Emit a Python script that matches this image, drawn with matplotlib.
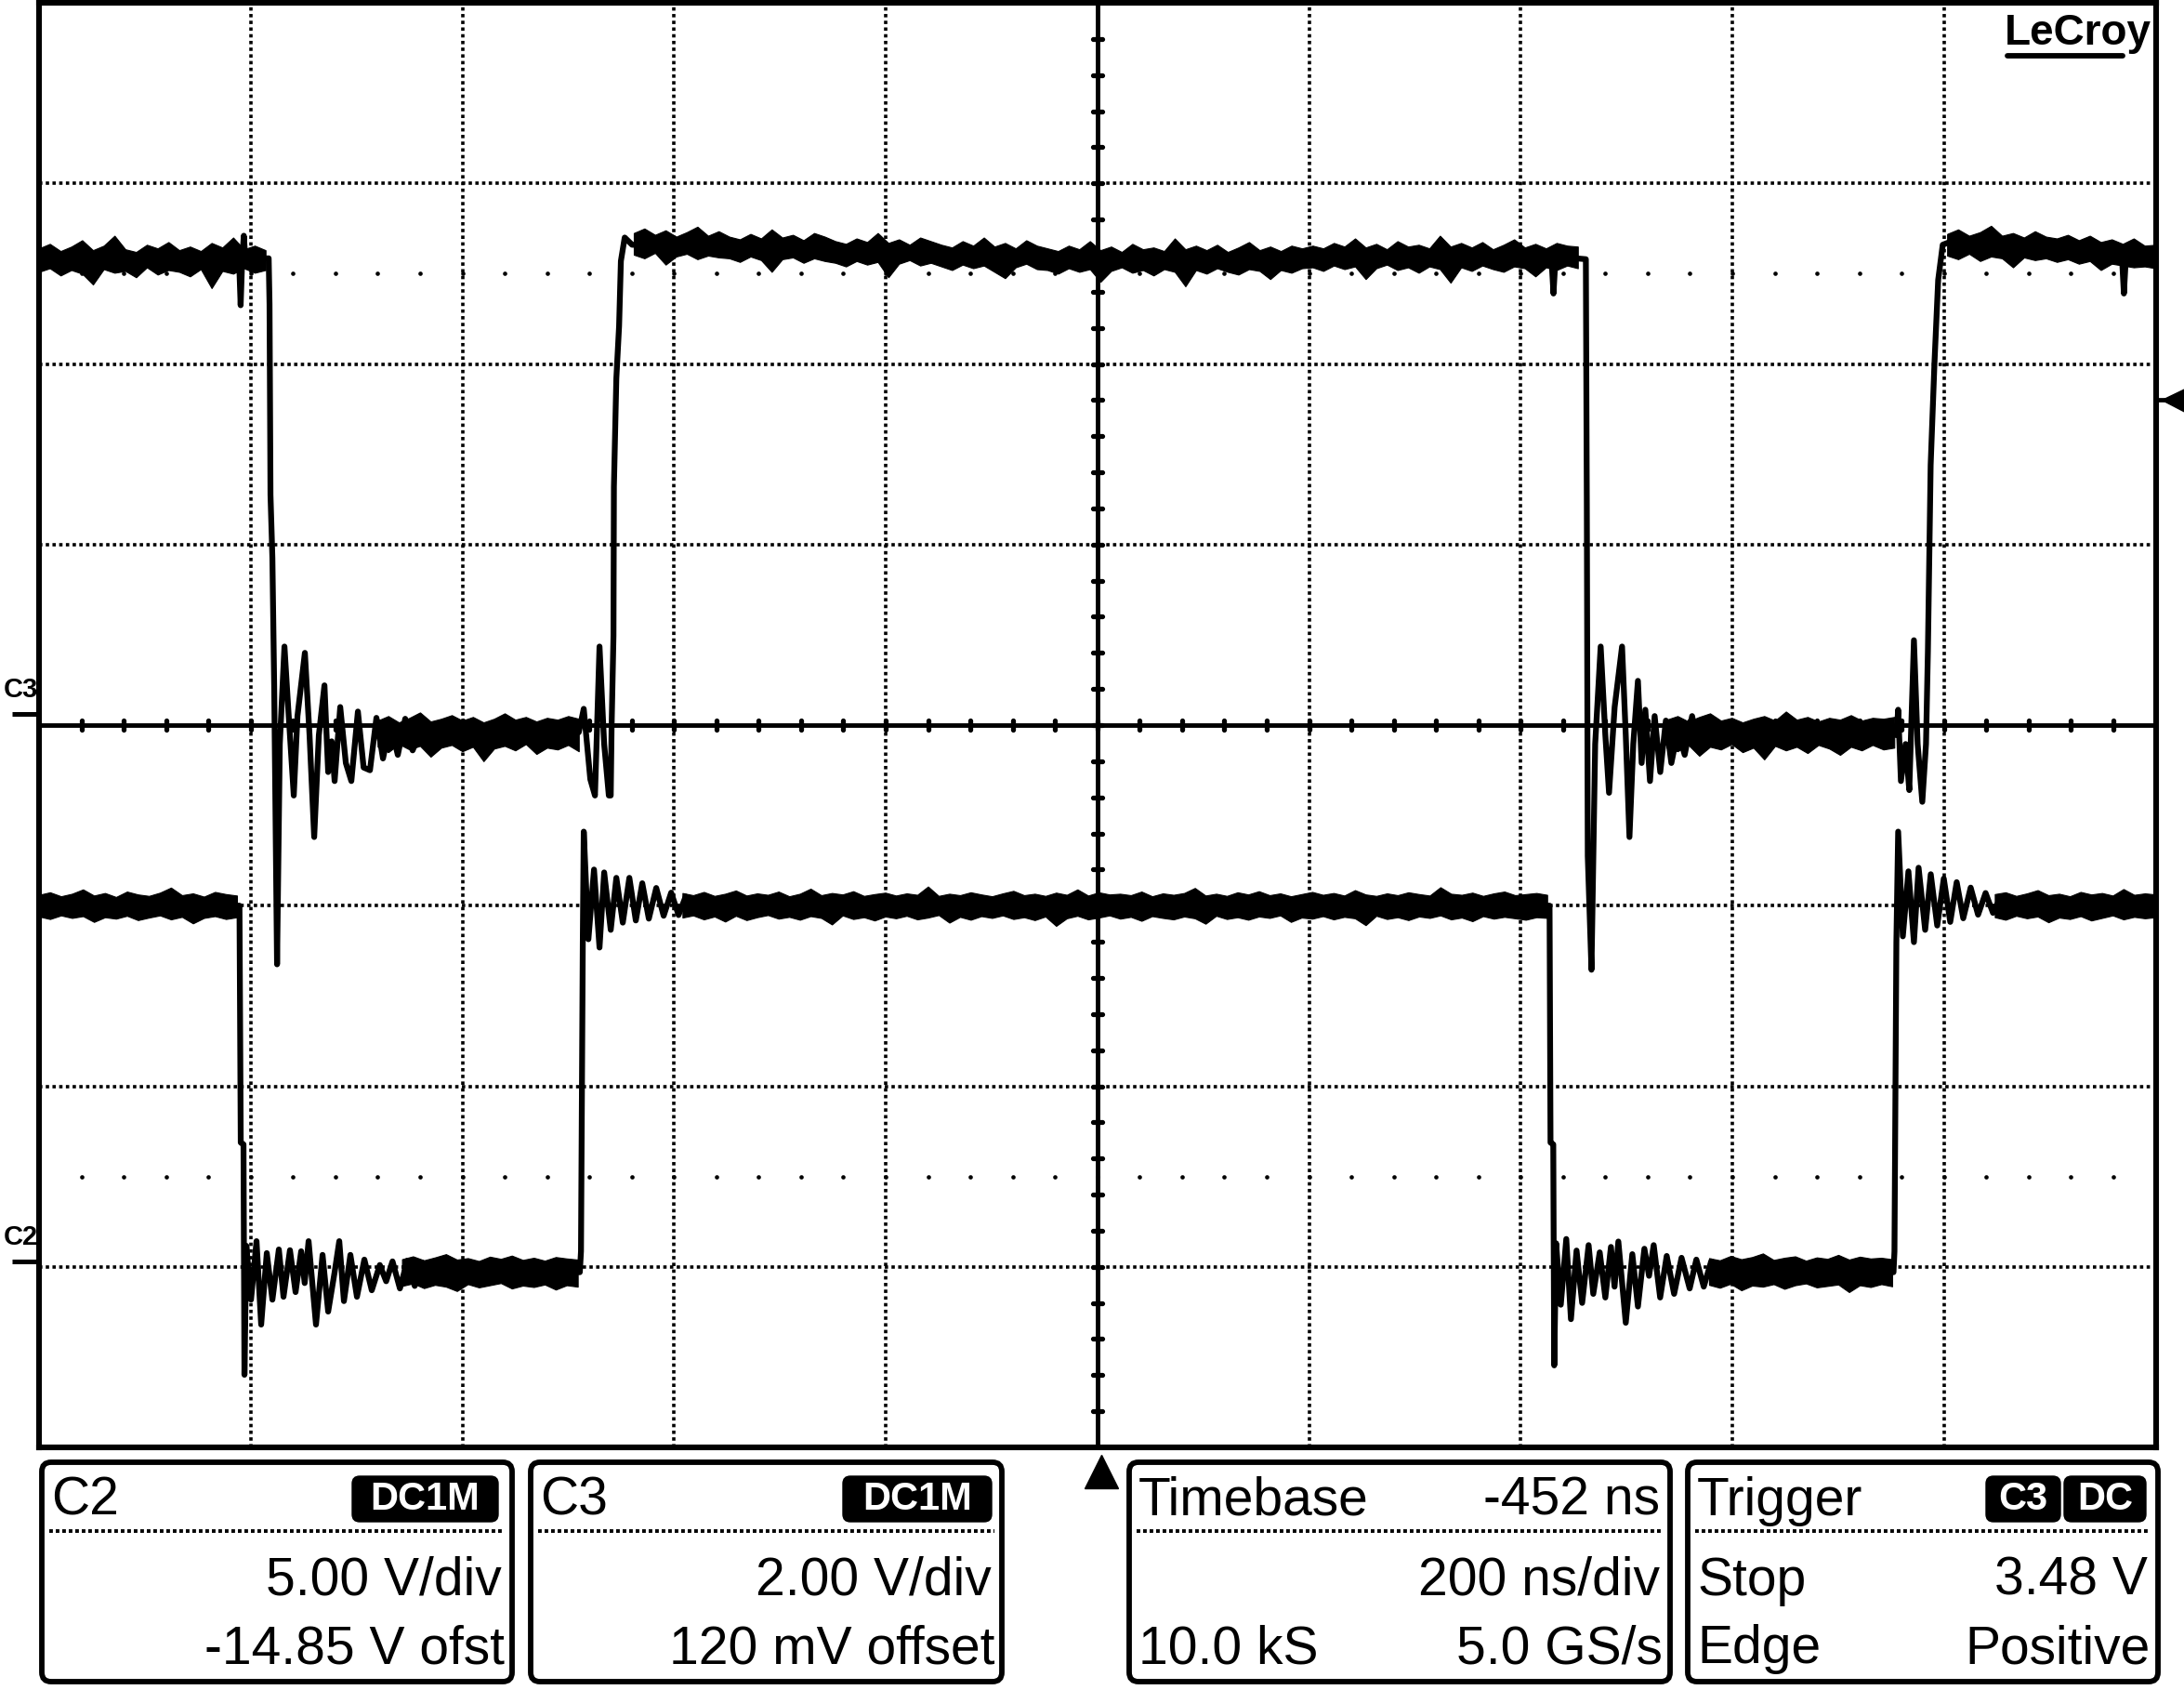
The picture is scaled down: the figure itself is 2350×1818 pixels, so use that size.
import numpy as np
import matplotlib
matplotlib.use("Agg")
import matplotlib.pyplot as plt
from matplotlib.patches import FancyBboxPatch
from matplotlib.transforms import blended_transform_factory, offset_copy

nan = float("nan")

# ---------------- scope settings ----------------
timebase_delay_ns = -452.0
ns_per_div = 200.0
n_div_x = 10
n_div_y = 8
c2_volts_per_div = 5.00
c2_offset_v = -14.85
c3_volts_per_div = 2.00
c3_offset_v = 0.12
trigger_level_v = 3.48

# ---------------- C3 trace (ns, V) ----------------
c3_t = [-548, -420, -359, -357.5, -356, -354.5, -353, -331, -330.2, -329.3, -327.5, -325.8, -323.1,
        -320.5, -316.1, -312.6, -307.3, -303.8, -296.8, -292.4, -288.0, -283.6, -278.3, -274.8, -271.5,
        -268.7, -263.4, -258.1, -252.9, -246.7, -241.3, -235.3, -229.2, -223.0, -216.0, -209, -202,
        -195, -188,
        -38, -33.3, -27.1, -22.7, -18.4, -14.0, -9.6, -7.8, -7.0, -5.2, -4.8, -2.5, 0.1, 1.8, 5.4, 12.4,
        100, 200, 300, 400, 640, 800, 881, 883, 885,
        913.6, 914.5, 915.4, 918.9, 922.4, 927.6, 932.0, 935.5, 940.8, 947.8, 951.3, 954.8, 958.4,
        962.8, 966.3, 969.8, 974.2, 978.6, 983.9, 989.2, 994.4, 1000.6, 1007, 1014, 1021, 1028, 1035,
        1207, 1208.7, 1211.3, 1215.7, 1219.2, 1223.6, 1227.1, 1231.5, 1235.0, 1236.8, 1239.4, 1243.0,
        1246.5, 1250.8, 1259.6, 1300, 1400, 1420, 1422, 1424, 1452]
c3_v = [5.04, 5.04, 5.03, 4.53, 5.05, 5.30, 5.04, 5.05, 4.54, 2.43, 1.73, 0.31, -2.77,
        -0.33, 0.75, 0.08, -0.90, -0.02, 0.68, -0.23, -1.36, -0.23, 0.32, -0.64, -0.30,
        -0.74, 0.08, -0.54, -0.74, 0.03, -0.59, -0.62, -0.04, -0.49, -0.10, -0.45, -0.05,
        -0.40, -0.20,
        -0.20, 0.06, -0.72, -0.90, 0.75, -0.33, -0.90, -0.90, -0.15, 0.87, 2.52, 3.72, 4.30, 5.02, 5.28, 5.20,
        5.17, 5.12, 5.08, 5.04, 5.04, 5.07, 5.07, 4.66, 5.07,
        5.04, 2.34, -1.57, -2.83, -0.33, 0.75, -0.23, -0.87, 0.08, 0.75, -0.23, -1.36, -0.33,
        0.37, -0.54, 0.05, -0.74, -0.02, -0.64, -0.07, -0.54, -0.18, -0.45, -0.02, -0.42, -0.12, -0.20,
        -0.23, 0.05, -0.74, -0.33, -0.84, 0.82, -0.33, -0.97, -0.33, 0.70, 2.76, 3.89,
        4.81, 5.20, 5.24, 5.18, 5.13, 5.10, 4.66, 5.09, 5.06]

# C3 noise envelope: time spans (ns) of the flat parts, and upper / lower edges (V)
c3_band_spans = [(-548, -334), (-228, -38), (14, 906), (990, 1205), (1255, 1452)]
c3_band_hi = [5.16, 5.21, 5.13, 5.18, 5.25, 5.14, 5.19, 5.30, 5.15, 5.12, 5.20, 5.16, 5.23, 5.14, 5.18,
              5.13, 5.22, 5.17, 5.28, 5.15, 5.19, 5.14, nan,
              -0.07, -0.02, -0.09, -0.04, 0.02, -0.08, -0.05, -0.01, -0.07, -0.03, -0.09, -0.05, 0.01,
              -0.06, -0.03, -0.08, -0.04, -0.06, -0.02, -0.05, nan,
              5.33, 5.38, 5.31, 5.36, 5.29, 5.34, 5.40, 5.30, 5.35,
              5.29, 5.26, 5.32, 5.27, 5.37, 5.28, 5.31, 5.25, 5.33, 5.29,
              5.24, 5.21, 5.27, 5.23, 5.33, 5.22, 5.26, 5.20, 5.28, 5.24,
              5.20, 5.17, 5.24, 5.19, 5.28, 5.18, 5.22, 5.16, 5.25, 5.19,
              5.16, 5.13, 5.19, 5.15, 5.24, 5.14, 5.18, 5.12, 5.21, 5.15, 5.17, 5.13, 5.27, 5.15, 5.19,
              5.14, 5.20, 5.12, 5.17, 5.23, 5.14, 5.18, 5.13, 5.19, 5.16,
              5.19, 5.16, 5.22, 5.18, 5.27, 5.17, 5.21, 5.15, 5.24, 5.18, 5.20, 5.16, 5.30, 5.18, 5.22,
              5.17, 5.23, 5.15, 5.20, 5.26, 5.17, 5.21, 5.16, 5.22, 5.19, 5.18, nan,
              -0.06, -0.02, -0.08, -0.03, 0.01, -0.07, -0.04, -0.09, -0.05, -0.02, -0.07, 0.03, -0.06,
              -0.03, -0.08, -0.04, -0.06, -0.01, -0.07, -0.04, -0.05, -0.03, nan,
              5.32, 5.37, 5.30, 5.34, 5.41, 5.30, 5.33, 5.28, 5.35, 5.29, 5.27, 5.31, 5.25, 5.30, 5.23,
              5.26, 5.21, 5.27, 5.19, 5.20]
c3_band_lo = [4.90, 4.94, 4.86, 4.92, 4.88, 4.76, 4.93, 4.89, 4.91, 4.84, 4.95, 4.87, 4.92, 4.90, 4.85,
              4.93, 4.72, 4.91, 4.88, 4.94, 4.89, 4.92, nan,
              -0.36, -0.42, -0.33, -0.39, -0.35, -0.47, -0.37, -0.34, -0.41, -0.36, -0.52, -0.38, -0.35,
              -0.40, -0.33, -0.44, -0.37, -0.39, -0.34, -0.41, nan,
              5.09, 5.05, 5.11, 4.98, 5.07, 5.10, 5.04, 5.08, 5.06,
              5.05, 5.01, 5.07, 5.03, 4.90, 5.04, 5.06, 5.00, 5.05, 5.02,
              5.00, 4.96, 5.02, 4.98, 5.01, 4.84, 4.99, 5.03, 4.97, 5.00,
              4.96, 4.92, 4.98, 4.94, 4.97, 4.90, 4.83, 4.95, 4.99, 4.93,
              4.92, 4.88, 4.94, 4.90, 4.93, 4.79, 4.91, 4.95, 4.89, 4.92, 4.86, 4.93, 4.90, 4.74, 4.92,
              4.88, 4.94, 4.90, 4.87, 4.93, 4.91, 4.82, 4.92, 4.89, 4.94,
              4.95, 4.91, 4.97, 4.93, 4.96, 4.82, 4.94, 4.98, 4.92, 4.95, 4.89, 4.96, 4.93, 4.78, 4.95,
              4.91, 4.97, 4.93, 4.90, 4.96, 4.94, 4.85, 4.95, 4.92, 4.97, 4.94, nan,
              -0.37, -0.41, -0.34, -0.46, -0.36, -0.39, -0.33, -0.42, -0.37, -0.50, -0.35, -0.40, -0.36,
              -0.43, -0.34, -0.38, -0.45, -0.36, -0.40, -0.34, -0.39, -0.37, nan,
              5.08, 5.04, 5.10, 5.02, 5.07, 5.05, 4.95, 5.06, 5.03, 5.05, 5.01, 5.04, 4.99, 5.02, 4.92,
              4.99, 4.97, 4.95, 4.96, 4.94]

# ---------------- C2 trace (ns, V) ----------------
c2_t = [-548, -358.6, -357.4, -354.8, -353.9, -352.1, -347.7, -342.5, -338.1, -332.8, -327.5, -321.4,
        -317.0, -310.9, -305.6, -300.3, -297.0, -293.3, -286.3, -280.1, -274.8, -268.7, -264.3, -259.9,
        -253.8, -247.6, -240.6, -233.6, -226.0, -220.0, -214.0, -207, -200, -193, -186, -179, -172,
        -165, -158, -150,
        -37.0, -35.9, -34.2, -33.3, -28.9, -23.6, -18.4, -14.0, -7.8, -2.5, 3.6, 9.8, 15.9, 22.0, 28.2,
        35.2, 42.2, 49.3, 56.3, 63.0, 70.0, 76.0, 83.0, 90.0,
        879.3, 880.2, 882.8, 883.7, 885.5, 889.9, 895.1, 899.5, 904.8, 910.1, 916.2, 920.6, 926.7, 932.0,
        937.3, 940.7, 944.3, 951.3, 957.5, 962.8, 968.9, 973.3, 977.7, 983.8, 990.0, 997.0, 1004.0,
        1011.7, 1018, 1025, 1032, 1039, 1046, 1053, 1060, 1068,
        1204.3, 1205.2, 1207.0, 1208.7, 1213.1, 1218.4, 1223.6, 1228.0, 1234.2, 1239.5, 1245.6, 1251.8,
        1257.9, 1264.0, 1270.2, 1277.2, 1284.2, 1291.3, 1298.3, 1305.0, 1312.0, 1452]
c2_v = [9.85, 9.85, 3.29, 3.24, -3.14, 0.43, -1.06, 0.56, -1.75, 0.23, -1.06, 0.33,
        -0.98, 0.31, -0.85, 0.28, -0.60, 0.56, -1.75, 0.18, -1.39, -0.30, 0.56, -1.10,
        0.18, -0.98, 0.05, -0.80, -0.10, -0.55, 0.00, -0.75, 0.02, -0.68, -0.03, -0.62, -0.08,
        -0.55, -0.12, -0.30,
        -0.30, 0.28, 8.84, 11.90, 8.92, 10.85, 8.69, 10.77, 9.18, 10.62, 9.38, 10.62, 9.44, 10.47, 9.49,
        10.34, 9.57, 10.21, 9.59, 10.10, 9.70, 10.05, 9.68, 9.85,
        9.85, 3.29, 3.24, -2.88, 0.50, -1.20, 0.62, -1.60, 0.30, -1.15, 0.45, -0.90, 0.25, -1.00,
        0.40, -0.70, 0.55, -1.70, 0.20, -1.25, 0.35, -0.40, 0.45, -1.00, 0.15, -0.90, 0.10,
        -0.75, 0.05, -0.70, 0.00, -0.62, -0.05, -0.58, -0.12, -0.30,
        -0.30, 0.28, 8.84, 11.90, 9.00, 10.80, 8.84, 10.90, 9.18, 10.72, 9.30, 10.60,
        9.40, 10.50, 9.50, 10.35, 9.60, 10.20, 9.65, 10.05, 9.80, 9.85]

# C2 noise envelope
c2_band_spans = [(-548, -361), (-205, -39), (60, 877), (1030, 1203), (1300, 1452)]
c2_band_hi = [10.15, 10.22, 10.11, 10.18, 10.30, 10.13, 10.20, 10.09, 10.24, 10.16, 10.12, 10.21, 10.35,
              10.14, 10.19, 10.10, 10.23, 10.17, 10.13, nan,
              0.06, 0.14, 0.03, 0.11, 0.20, 0.05, 0.09, 0.01, 0.13, 0.07, 0.16, 0.04, 0.10, 0.02, 0.12,
              0.08, 0.05, nan,
              10.20, 10.14, 10.23, 10.12, 10.18, 10.27, 10.13, 10.19, 10.15, 10.24,
              10.11, 10.18, 10.32, 10.14, 10.20, 10.16, 10.25, 10.12, 10.17, 10.21,
              10.13, 10.19, 10.15, 10.38, 10.12, 10.18, 10.14, 10.22, 10.16, 10.11,
              10.19, 10.26, 10.14, 10.18, 10.12, 10.21, 10.15, 10.30, 10.13, 10.22,
              10.16, 10.18, 10.14, 10.24, 10.11, 10.19, 10.15, 10.20, 10.34, 10.13,
              10.18, 10.12, 10.22, 10.16, 10.25, 10.14, 10.19, 10.11, 10.17, 10.23,
              10.15, 10.20, 10.13, 10.28, 10.16, 10.12, 10.19, 10.14, 10.22, 10.17,
              10.13, 10.36, 10.18, 10.15, 10.21, 10.12, 10.19, 10.24, 10.14, 10.17,
              10.20, 10.15, nan,
              0.09, 0.03, 0.15, 0.06, 0.12, 0.22, 0.04, 0.10, 0.14, 0.02, 0.11, 0.07, 0.18, 0.05, 0.13,
              0.08, 0.10, 0.06, nan,
              10.17, 10.22, 10.12, 10.19, 10.28, 10.14, 10.18, 10.11, 10.23, 10.16, 10.20, 10.13, 10.31,
              10.15, 10.19, 10.16]
c2_band_lo = [9.55, 9.48, 9.58, 9.51, 9.56, 9.40, 9.53, 9.49, 9.57, 9.45, 9.52, 9.58, 9.47, 9.54, 9.36,
              9.51, 9.56, 9.48, 9.53, nan,
              -0.68, -0.61, -0.74, -0.65, -0.70, -0.82, -0.63, -0.72, -0.66, -0.60, -0.75, -0.67, -0.71,
              -0.64, -0.78, -0.66, -0.70, nan,
              9.52, 9.58, 9.47, 9.55, 9.41, 9.57, 9.45, 9.53, 9.59, 9.49,
              9.54, 9.46, 9.56, 9.51, 9.33, 9.58, 9.48, 9.53, 9.44, 9.55,
              9.50, 9.57, 9.47, 9.52, 9.59, 9.38, 9.54, 9.46, 9.56, 9.51,
              9.58, 9.48, 9.53, 9.45, 9.55, 9.29, 9.50, 9.57, 9.47, 9.52,
              9.58, 9.49, 9.54, 9.43, 9.56, 9.51, 9.47, 9.55, 9.50, 9.35,
              9.57, 9.48, 9.53, 9.46, 9.55, 9.51, 9.58, 9.40, 9.52, 9.49,
              9.56, 9.47, 9.54, 9.50, 9.31, 9.57, 9.48, 9.53, 9.45, 9.55,
              9.51, 9.58, 9.47, 9.52, 9.42, 9.56, 9.49, 9.54, 9.50, 9.46,
              9.53, 9.51, nan,
              -0.65, -0.73, -0.62, -0.80, -0.67, -0.70, -0.63, -0.76, -0.66, -0.61, -0.72, -0.68, -0.64,
              -0.85, -0.66, -0.71, -0.63, -0.69, nan,
              9.53, 9.46, 9.57, 9.50, 9.55, 9.39, 9.52, 9.48, 9.56, 9.44, 9.51, 9.58, 9.47, 9.54, 9.50, 9.53]

# ---------------- info box texts ----------------
box_titles = ["C2", "C3", "Timebase", "Trigger"]
box_title_right = ["", "", "-452 ns", ""]
box_row2_left = ["", "", "", "Stop"]
box_row2_right = ["5.00 V/div", "2.00 V/div", "200 ns/div", "3.48 V"]
box_row3_left = ["", "", "10.0 kS", "Edge"]
box_row3_right = ["-14.85 V ofst", "120 mV offset", "5.0 GS/s", "Positive"]
box_badges = [["DC1M"], ["DC1M"], [], ["C3", "DC"]]
channel_labels = ["C3", "C2"]
brand = "LeCroy"

# ---------------- figure ----------------
W, H = 2350, 1818
fig = plt.figure(figsize=(W / 100, H / 100), dpi=100)
fig.patch.set_facecolor("white")
FONT = ["Liberation Sans", "DejaVu Sans"]

L, R, T, B = 42, 2319.5, 3, 1557
rect = [L / W, 1 - B / H, (R - L) / W, (B - T) / H]

# graticule axes (in divisions)
gx = fig.add_axes(rect, zorder=1)
gx.set_xlim(0, n_div_x)
gx.set_ylim(-n_div_y / 2, n_div_y / 2)
gx.set_xticks([])
gx.set_yticks([])
for s in gx.spines.values():
    s.set_visible(False)
gx.set_facecolor("white")
dot = (0, (1, 1))
for xv in range(1, n_div_x):
    if xv != n_div_x // 2:
        gx.axvline(xv, color="black", lw=2.6, ls=dot, dash_capstyle="butt")
for yv in range(-n_div_y // 2 + 1, n_div_y // 2):
    if yv != 0:
        gx.axhline(yv, color="black", lw=2.6, ls=dot, dash_capstyle="butt")
gx.axvline(n_div_x / 2, color="black", lw=3.5)
gx.axhline(0, color="black", lw=3.5)
minor_x = np.arange(1, n_div_x * 5) * 0.2
minor_y = np.arange(-n_div_y * 5 // 2 + 1, n_div_y * 5 // 2) * 0.2
tx = gx.vlines(minor_x, -0.024, 0.024, color="black", lw=3.8)
tx.set_capstyle("round")
ty = gx.hlines(minor_y, n_div_x / 2 - 0.021, n_div_x / 2 + 0.021, color="black", lw=3.8)
ty.set_capstyle("round")
for yrow in (2.5, -2.5):
    gx.scatter(minor_x, np.full_like(minor_x, yrow), s=11, c="black", lw=0)
# trigger position marker below the grid
gx.plot([n_div_x / 2 + 0.02], [-0.0168], marker="^", ms=26, color="black", clip_on=False,
        transform=blended_transform_factory(gx.transData, gx.transAxes))

# trace axes
x_center = -timebase_delay_ns
xlim = (x_center - ns_per_div * n_div_x / 2, x_center + ns_per_div * n_div_x / 2)


def trace_axes(vdiv, offset, z):
    a = fig.add_axes(rect, zorder=z)
    a.set_xlim(*xlim)
    a.set_ylim(-offset - vdiv * n_div_y / 2, -offset + vdiv * n_div_y / 2)
    a.axis("off")
    a.patch.set_visible(False)
    return a


def fill_band(a, spans, hi, lo):
    hi = np.asarray(hi, float)
    lo = np.asarray(lo, float)
    cut_hi = np.split(hi, np.flatnonzero(np.isnan(hi)))
    cut_lo = np.split(lo, np.flatnonzero(np.isnan(lo)))
    for (t0, t1), h, l in zip(spans, cut_hi, cut_lo):
        h = h[~np.isnan(h)]
        l = l[~np.isnan(l)]
        n = min(len(h), len(l))
        tt = np.linspace(t0, t1, n)
        a.fill_between(tt, l[:n], h[:n], color="black", lw=0.8)


ax2 = trace_axes(c2_volts_per_div, c2_offset_v, 2)
ax3 = trace_axes(c3_volts_per_div, c3_offset_v, 3)
for a, t, v, spans, bhi, blo in ((ax2, c2_t, c2_v, c2_band_spans, c2_band_hi, c2_band_lo),
                                 (ax3, c3_t, c3_v, c3_band_spans, c3_band_hi, c3_band_lo)):
    fill_band(a, spans, bhi, blo)
    a.plot(t, v, color="black", lw=4.5, solid_joinstyle="round", solid_capstyle="round")

# channel ground markers and labels on the left
for a, lab in ((ax3, channel_labels[0]), (ax2, channel_labels[1])):
    tr = blended_transform_factory(a.transAxes, a.transData)
    a.plot([-0.0128, -0.0004], [0, 0], color="black", lw=3.6, transform=tr, clip_on=False,
           solid_capstyle="butt")
    a.text(-0.0088, 0, lab, transform=offset_copy(tr, fig=fig, x=0, y=26, units="dots"),
           ha="center", va="center", fontsize=21, fontweight="bold", family=FONT)

# trigger level marker on the right
tr3 = blended_transform_factory(ax3.transAxes, ax3.transData)
ax3.plot([1.0, 1.0045], [trigger_level_v] * 2, color="black", lw=3.4, transform=tr3, clip_on=False)
ax3.plot([1.0082], [trigger_level_v], marker="<", ms=18, color="black", transform=tr3, clip_on=False)

# frame on top
fr = fig.add_axes(rect, zorder=4)
fr.patch.set_visible(False)
fr.set_xticks([])
fr.set_yticks([])
for s in fr.spines.values():
    s.set_linewidth(4.4)
    s.set_color("black")

# overlay in figure pixels for the info boxes and logo
ov = fig.add_axes([0, 0, 1, 1], zorder=10)
ov.set_xlim(0, W)
ov.set_ylim(H, 0)
ov.axis("off")
ov.patch.set_visible(False)

box_x = [(45, 551), (571, 1078), (1215, 1797), (1816, 2322)]
badge_x = [[(379, 536)], [(907, 1067)], [], [(2137, 2217), (2221, 2309)]]
box_top, box_bot = 1573, 1809
sep_y = 1647
rows_y = [1630, 1716, 1789]
FS = 41
for i, (x0, x1) in enumerate(box_x):
    ov.add_patch(FancyBboxPatch((x0, box_top), x1 - x0, box_bot - box_top,
                                boxstyle="round,pad=0,rounding_size=10",
                                fc="white", ec="black", lw=4.2))
    ov.plot([x0 + 8, x1 - 8], [sep_y, sep_y], color="black", lw=2.8, ls=(0, (1, 0.8)))
    lx, rx = x0 + 10, x1 - 11
    ov.text(lx, rows_y[0], box_titles[i], ha="left", va="baseline", fontsize=FS, family=FONT)
    if box_title_right[i]:
        ov.text(rx, rows_y[0], box_title_right[i], ha="right", va="baseline", fontsize=FS, family=FONT)
    if box_row2_left[i]:
        ov.text(lx, rows_y[1], box_row2_left[i], ha="left", va="baseline", fontsize=FS, family=FONT)
    ov.text(rx, rows_y[1], box_row2_right[i], ha="right", va="baseline", fontsize=FS, family=FONT)
    if box_row3_left[i]:
        ov.text(lx, rows_y[2], box_row3_left[i], ha="left", va="baseline", fontsize=FS, family=FONT)
    ov.text(rx + 3, rows_y[2], box_row3_right[i], ha="right", va="baseline", fontsize=FS, family=FONT)
    for lab, (b0, b1) in zip(box_badges[i], badge_x[i]):
        ov.add_patch(FancyBboxPatch((b0, 1588), b1 - b0, 49, boxstyle="round,pad=0,rounding_size=8",
                                    fc="black", ec="black", lw=1))
        ov.text((b0 + b1) / 2, 1613, lab, ha="center", va="center", color="white",
                fontsize=30, fontweight="bold", family=FONT)

# logo
ov.text(2157, 48, brand, ha="left", va="baseline", fontsize=33, fontweight="bold", family=FONT)
ov.plot([2160, 2284], [60, 60], color="black", lw=4.2, solid_capstyle="round")

fig.savefig("out.png", dpi=100, facecolor="white")
